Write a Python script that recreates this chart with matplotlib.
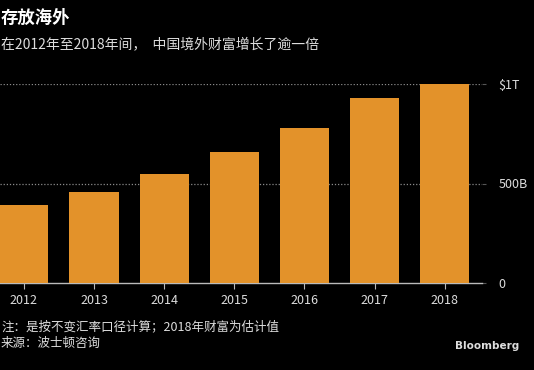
import matplotlib
matplotlib.use('Agg')
import matplotlib.pyplot as plt

plt.rcParams['font.family'] = ['Noto Sans CJK SC', 'DejaVu Sans']

years = ['2012', '2013', '2014', '2015', '2016', '2017', '2018']
wealth = [392, 457, 548, 658, 779, 930, 1000]  # billions USD
ytick_vals = [0, 500, 1000]
ytick_labels = ['0', '500B', '$1T']

title = '存放海外'
subtitle = '在2012年至2018年间，  中国境外财富增长了逾一倍'
note = '注：是按不变汇率口径计算；2018年财富为估计值'
source = '来源：波士顿咨询'

W, H = 534, 370
fig = plt.figure(figsize=(W / 100, H / 100), dpi=100, facecolor='black')
ax = fig.add_axes([0, 1 - 283 / H, 482 / W, (283 - 84) / H])
ax.set_facecolor('black')

x = list(range(len(years)))
ax.bar(x, wealth, width=0.7, color='#E3922A', zorder=3)

ax.set_xlim(-0.34, 6.53)
ax.set_ylim(0, 1000)
for v in ytick_vals[1:]:
    ax.axhline(v, color='#8a8a8a', linestyle=(0, (1, 1.5)), linewidth=0.9, zorder=1)

ax.set_xticks(x)
ax.set_xticklabels(years)
ax.yaxis.tick_right()
ax.set_yticks(ytick_vals)
ax.set_yticklabels(ytick_labels)
ax.tick_params(axis='x', colors='#bbbbbb', labelcolor='#dddddd', labelsize=9, length=4, pad=4)
ax.tick_params(axis='y', colors='#555555', labelcolor='#dddddd', labelsize=9, length=3, pad=9)

for s in ['top', 'left', 'right']:
    ax.spines[s].set_visible(False)
ax.spines['bottom'].set_color('#bbbbbb')
ax.spines['bottom'].set_linewidth(1.0)

fig.text(1 / W, 1 - 18 / H, title, color='white', fontsize=12.5, fontweight='bold', va='center', ha='left')
fig.text(1 / W, 1 - 45 / H, subtitle, color='#dddddd', fontsize=10, va='center', ha='left')
fig.text(1 / W, 1 - 327 / H, note, color='#dddddd', fontsize=9, va='center', ha='left')
fig.text(1 / W, 1 - 343 / H, source, color='#dddddd', fontsize=9, va='center', ha='left')
fig.text(519 / W, 1 - 346 / H, 'Bloomberg', color='#dddddd', fontsize=7.5, fontweight='bold',
         family='DejaVu Sans', va='center', ha='right')

fig.savefig('out.png', dpi=100, facecolor='black')
